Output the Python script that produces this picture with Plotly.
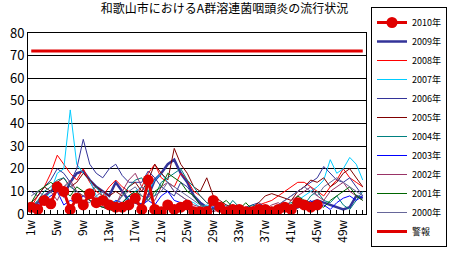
import plotly.graph_objects as go

weeks = [f"{i}w" for i in range(1, 53)]
tick_labels = [w if (i % 4 == 0) else "" for i, w in enumerate(weeks)]

y2010 = [3, 2, 6, 4.5, 12, 10, 2, 7, 4, 9, 5, 6, 4, 3, 3, 4, 7, 2, 15, 2, 1, 4, 2, 3, 4, 1, 1, 1, 6, 3,
         1, 2, 2, 1, 1, 2, 2, 1, 2, 3, 2, 5, 4, 3, 4]
y2009 = [2, 5, 8, 10, 12, 8, 14, 18, 19, 15, 12, 10, 8, 14, 10, 6, 5, 4, 8, 15, 18, 22, 24, 18, 14, 8,
         5, 3, 2, 3, 2, 1, 2, 1, 2, 2, 1, 2, 3, 2, 2, 3, 4, 5, 6, 5, 4, 3, 2, 3, 8, 7]
y2008 = [3, 8, 12, 18, 26, 22, 18, 15, 20, 14, 10, 8, 12, 15, 12, 10, 8, 12, 18, 22, 16, 14, 12, 18,
         15, 10, 8, 5, 3, 2, 2, 1, 2, 3, 2, 4, 5, 6, 8, 10, 12, 14, 14, 12, 10, 8, 12, 15, 20, 16, 14, 12]
y2007 = [1, 3, 6, 10, 18, 20, 46, 22, 18, 15, 8, 5, 4, 6, 3, 8, 10, 12, 10, 15, 18, 14, 10, 8, 6, 5,
         3, 4, 3, 2, 4, 2, 1, 2, 3, 2, 2, 1, 1, 2, 4, 6, 8, 10, 12, 15, 24, 18, 20, 25, 22, 15]
y2006 = [10, 8, 12, 15, 20, 18, 14, 20, 33, 22, 18, 16, 20, 22, 17, 14, 14, 14, 19, 16, 12, 10, 8, 14,
         12, 8, 4, 3, 2, 2, 3, 2, 1, 3, 4, 5, 3, 2, 4, 6, 8, 10, 12, 14, 16, 21, 18, 15, 14, 16, 12, 8]
y2005 = [5, 8, 12, 10, 14, 16, 12, 14, 18, 15, 12, 10, 8, 10, 8, 12, 14, 10, 15, 22, 18, 15, 29, 22,
         18, 12, 10, 16, 8, 6, 4, 3, 3, 2, 3, 5, 8, 9, 8, 7, 6, 10, 12, 15, 14, 16, 12, 14, 18, 20, 16, 12]
y2004 = [3, 6, 10, 12, 15, 16, 12, 10, 8, 10, 12, 8, 6, 5, 8, 12, 15, 16, 10, 8, 14, 16, 18, 20, 15,
         12, 8, 5, 4, 3, 2, 6, 3, 2, 4, 3, 2, 3, 2, 4, 5, 6, 4, 8, 10, 6, 5, 8, 4, 2, 6, 10]
y2003 = [1, 4, 6, 8, 10, 4, 6, 5, 8, 6, 4, 3, 2, 6, 5, 8, 6, 4, 6, 4, 8, 10, 6, 5, 4, 3, 2, 1, 3, 4,
         2, 1, 2, 1, 2, 1, 2, 1, 3, 4, 2, 6, 4, 6, 3, 4, 2, 5, 7, 8, 6, 8]
y2002 = [2, 5, 8, 10, 6, 12, 15, 10, 8, 6, 4, 3, 5, 4, 10, 15, 18, 12, 8, 6, 12, 14, 10, 8, 6, 4, 3,
         2, 1, 2, 3, 4, 2, 1, 2, 3, 2, 4, 5, 3, 6, 8, 10, 12, 8, 6, 10, 12, 14, 10, 8, 6]
y2001 = [5, 10, 12, 14, 12, 10, 8, 12, 10, 6, 4, 3, 2, 1, 5, 8, 10, 8, 6, 10, 12, 18, 16, 14, 10, 8,
         4, 3, 2, 4, 6, 3, 2, 5, 2, 3, 2, 1, 2, 3, 4, 8, 6, 5, 4, 3, 6, 8, 10, 12, 8, 6]
y2000 = [8, 10, 8, 6, 10, 12, 14, 8, 6, 5, 8, 10, 6, 4, 8, 10, 12, 8, 6, 8, 10, 14, 12, 10, 8, 6, 4,
         3, 2, 3, 2, 4, 3, 2, 1, 2, 3, 2, 4, 6, 8, 10, 12, 10, 8, 12, 14, 16, 14, 12, 10, 8]
alarm_level = 72

series = [
    ("2009年", y2009, "#333399", 2.5),
    ("2008年", y2008, "#ff0000", 1),
    ("2007年", y2007, "#00ccff", 1),
    ("2006年", y2006, "#333399", 1),
    ("2005年", y2005, "#800000", 1),
    ("2004年", y2004, "#008080", 1),
    ("2003年", y2003, "#0000ff", 1),
    ("2002年", y2002, "#993366", 1),
    ("2001年", y2001, "#006600", 1),
    ("2000年", y2000, "#666699", 1),
]
order = ["2010年", "2009年", "2008年", "2007年", "2006年", "2005年", "2004年", "2003年",
         "2002年", "2001年", "2000年", "警報"]

fig = go.Figure()
for name, ys, color, w in series:
    fig.add_trace(go.Scatter(x=weeks[:len(ys)], y=ys, name=name, mode="lines",
                             line=dict(color=color, width=w),
                             legendrank=order.index(name) + 1))

fig.add_trace(go.Scatter(x=weeks[:len(y2010)], y=y2010, name="2010年", mode="lines+markers",
                         line=dict(color="#e00000", width=3),
                         marker=dict(size=11, color="#e00000", symbol="circle"),
                         legendrank=1))
fig.add_trace(go.Scatter(x=weeks, y=[alarm_level] * len(weeks), name="警報", mode="lines",
                         line=dict(color="#e00000", width=3), legendrank=12))

font = "Noto Sans CJK JP"
fig.update_layout(
    width=449, height=254,
    margin=dict(l=28, r=83, t=33, b=40, autoexpand=False),
    paper_bgcolor="white", plot_bgcolor="white",
    font=dict(family=font, color="black", size=12),
    title=dict(text="和歌山市におけるA群溶連菌咽頭炎の流行状況", x=0.5, xref="container",
               xanchor="center", y=1 - 9 / 254, yref="container", yanchor="middle",
               font=dict(size=12, family=font)),
    legend=dict(x=447 / 449, y=1 - 7 / 254, xref="container", yref="container",
                xanchor="right", yanchor="top", bordercolor="black",
                borderwidth=1, font=dict(size=9, family=font), traceorder="normal",
                itemwidth=30, tracegroupgap=0, maxheight=250),
    showlegend=True,
)

fig.update_xaxes(type="category", categoryorder="array", categoryarray=weeks,
                 tickmode="array", tickvals=weeks, ticktext=tick_labels, tickangle=-90,
                 ticks="inside", ticklen=4, tickcolor="black", showgrid=False,
                 showline=True, linecolor="black", linewidth=1, mirror=True,
                 tickfont=dict(size=12, family=font), range=[-0.5, 51.5])
fig.update_yaxes(range=[0, 80], dtick=10, showgrid=True, gridcolor="black", gridwidth=1,
                 showline=True, linecolor="black", linewidth=1, mirror=True, ticks="",
                 tickfont=dict(size=13, family=font), zeroline=False)

fig.write_html("out.html")
